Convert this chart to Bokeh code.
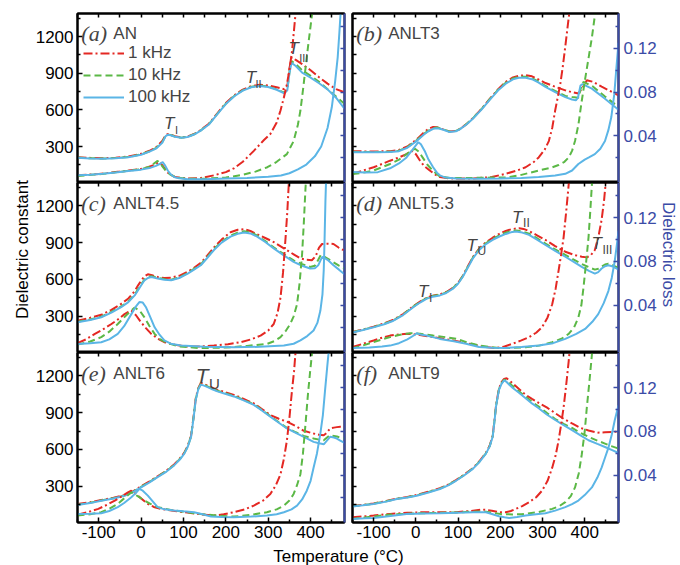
from math import pi
from bokeh.plotting import figure
from bokeh.models import Range1d, LinearAxis, FixedTicker, Legend, LegendItem, Label
from bokeh.layouts import row, column
from bokeh.embed import file_html
from bokeh.resources import INLINE
from bokeh.core.properties import value

# ---------------- data (temperature in degC, dielectric constant, dielectric loss) ----------------
# (a) AN
A_T_E = [-150, -120, -90, -60, -30, 0, 20, 35, 50, 58, 63, 70, 80, 95, 110, 125, 140, 160, 180, 200, 220, 240, 260, 280, 300, 320, 338, 345, 350, 355, 365, 380, 400, 420, 440, 460, 480]
A_E_100K = [207, 202, 199, 203, 212, 232, 258, 282, 330, 385, 396, 392, 380, 371, 378, 398, 428, 480, 565, 648, 712, 758, 786, 796, 788, 765, 735, 760, 900, 985, 960, 905, 865, 818, 768, 700, 610]
A_E_1K = [212, 207, 204, 208, 218, 240, 265, 292, 345, 392, 402, 396, 384, 374, 382, 402, 433, 487, 572, 656, 720, 766, 795, 806, 800, 785, 770, 790, 940, 1030, 1010, 975, 925, 868, 815, 770, 745]
A_E_10K = [209, 204, 201, 205, 214, 235, 261, 286, 336, 388, 398, 394, 382, 372, 380, 400, 430, 483, 568, 651, 715, 761, 789, 799, 791, 768, 742, 765, 905, 1000, 975, 925, 880, 830, 770, 710, 650]
A_T_L100K = [-150, -120, -90, -60, -30, 0, 20, 35, 45, 51, 56, 63, 70, 78, 90, 110, 150, 200, 250, 300, 330, 350, 370, 390, 410, 425, 440, 450, 458, 464, 468, 472]
A_L_100K = [0.0036, 0.0042, 0.005, 0.0062, 0.0076, 0.0088, 0.0102, 0.0122, 0.0142, 0.0158, 0.013, 0.008, 0.0045, 0.002, 0.0008, 0.0, 0.0, 0.0006, 0.0012, 0.0022, 0.0035, 0.0055, 0.009, 0.0135, 0.021, 0.03, 0.047, 0.066, 0.09, 0.112, 0.135, 0.16]
A_T_L1K = [-150, -100, -50, 0, 16, 30, 43, 50, 63, 80, 110, 140, 172, 200, 219, 240, 266, 290, 305, 320, 329, 337, 344, 350, 356, 360, 364, 367]
A_L_1K = [0.0036, 0.0048, 0.007, 0.0095, 0.011, 0.013, 0.016, 0.013, 0.006, 0.002, 0.0006, 0.001, 0.0036, 0.0065, 0.01, 0.016, 0.026, 0.036, 0.0415, 0.052, 0.063, 0.075, 0.087, 0.1, 0.117, 0.133, 0.15, 0.16]
A_T_L10K = [-150, -100, -50, 0, 20, 39, 48, 60, 70, 85, 110, 150, 200, 240, 270, 298, 320, 344, 360, 370, 376, 383, 388, 395, 403, 406]
A_L_10K = [0.003, 0.0045, 0.0068, 0.0092, 0.0115, 0.0168, 0.013, 0.007, 0.004, 0.0015, 0.0005, 0.0005, 0.0015, 0.004, 0.007, 0.011, 0.016, 0.023, 0.035, 0.05, 0.063, 0.085, 0.102, 0.125, 0.15, 0.16]

# (b) ANLT3
B_T_E100K = [-150, -120, -90, -60, -40, -20, 0, 10, 20, 30, 41, 50, 57, 65, 80, 95, 104, 120, 135, 155, 174, 195, 213, 230, 244, 260, 275, 290, 307, 330, 354, 370, 379, 384, 390, 395, 417, 448, 480]
B_E_100K = [253, 252, 252, 254, 262, 290, 340, 370, 400, 425, 445, 450, 446, 437, 418, 425, 440, 480, 527, 600, 678, 760, 815, 850, 864, 863, 852, 825, 788, 745, 705, 685, 678, 700, 800, 812, 774, 692, 601]
B_T_E1K = [-150, -120, -90, -60, -40, -20, 0, 10, 20, 30, 41, 50, 57, 65, 80, 95, 104, 120, 135, 155, 174, 195, 213, 230, 244, 260, 275, 290, 307, 330, 354, 370, 385, 395, 405, 420, 440, 460, 480]
B_E_1K = [262, 260, 260, 262, 272, 300, 352, 385, 418, 445, 460, 458, 450, 440, 422, 428, 443, 483, 532, 606, 686, 770, 830, 866, 880, 884, 875, 850, 820, 790, 760, 745, 735, 780, 843, 830, 790, 755, 719]
B_T_E10K = [-150, -120, -90, -60, -40, -20, 0, 10, 20, 30, 41, 50, 57, 65, 80, 95, 104, 120, 135, 155, 174, 195, 213, 230, 244, 260, 275, 290, 307, 330, 354, 370, 385, 391, 397, 420, 448, 480]
B_E_10K = [256, 255, 255, 257, 266, 295, 345, 376, 406, 430, 450, 455, 450, 441, 422, 428, 443, 484, 531, 605, 683, 766, 822, 858, 872, 871, 860, 833, 796, 755, 715, 705, 700, 780, 829, 790, 710, 625]
B_T_L100K = [-150, -120, -90, -61, -40, -22, -10, 0, 6, 12, 21, 30, 41, 50, 57, 70, 96, 150, 200, 250, 291, 330, 354, 370, 385, 400, 410, 424, 437, 448, 456, 463, 470, 475, 480]
B_L_100K = [0.0067, 0.0062, 0.0065, 0.01, 0.0145, 0.02, 0.026, 0.031, 0.034, 0.032, 0.026, 0.018, 0.011, 0.006, 0.0036, 0.0015, 0.0006, 0.0005, 0.0006, 0.0012, 0.002, 0.0035, 0.005, 0.008, 0.014, 0.018, 0.02, 0.023, 0.028, 0.035, 0.045, 0.057, 0.078, 0.102, 0.125]
B_T_L1K = [-150, -125, -100, -80, -61, -40, -22, -10, 0, 10, 20, 33, 45, 57, 80, 130, 180, 213, 240, 260, 280, 291, 305, 315, 323, 330, 336, 342, 348, 355, 362, 366]
B_L_1K = [0.005, 0.008, 0.011, 0.014, 0.017, 0.02, 0.023, 0.026, 0.023, 0.017, 0.012, 0.008, 0.0045, 0.002, 0.0008, 0.0006, 0.002, 0.005, 0.008, 0.011, 0.016, 0.02, 0.027, 0.035, 0.047, 0.063, 0.075, 0.087, 0.103, 0.125, 0.148, 0.16]
B_T_L10K = [-150, -125, -100, -80, -61, -40, -22, -10, -2, 8, 16, 28, 40, 57, 80, 130, 180, 213, 250, 291, 320, 338, 352, 362, 370, 377, 385, 393, 401, 409, 417, 424, 427]
B_L_10K = [0.0048, 0.006, 0.008, 0.011, 0.014, 0.018, 0.023, 0.026, 0.028, 0.025, 0.02, 0.013, 0.008, 0.0025, 0.0012, 0.0012, 0.0015, 0.0015, 0.004, 0.008, 0.0105, 0.013, 0.016, 0.02, 0.026, 0.035, 0.05, 0.072, 0.092, 0.111, 0.13, 0.15, 0.16]

# (c) ANLT4.5
C_T_E = [-150, -120, -94, -70, -47, -30, -15, -3, 8, 16, 24, 32, 39, 55, 71, 90, 110, 125, 141, 156, 172, 190, 211, 228, 243, 258, 274, 293, 313, 336, 360, 380, 399, 410, 418, 424, 428, 440, 454, 467, 480]
C_E_100K = [251, 270, 292, 330, 374, 415, 470, 535, 593, 612, 620, 614, 607, 597, 593, 612, 648, 680, 716, 775, 840, 900, 949, 972, 982, 975, 949, 905, 853, 798, 744, 712, 689, 692, 715, 760, 785, 760, 716, 680, 642]
C_E_10K = [255, 274, 297, 336, 380, 422, 478, 543, 600, 620, 627, 621, 613, 603, 598, 617, 653, 686, 722, 782, 848, 908, 958, 982, 992, 985, 958, 913, 862, 808, 755, 725, 702, 712, 760, 799, 795, 770, 740, 712, 690]
C_T_E1K = [-150, -120, -94, -70, -47, -30, -15, -7, 0, 8, 16, 26, 39, 55, 71, 90, 110, 125, 141, 156, 172, 190, 211, 228, 243, 258, 274, 293, 313, 337, 360, 376, 390, 403, 412, 420, 427, 440, 454, 466, 480]
C_E_1K = [264, 288, 312, 352, 401, 445, 505, 552, 590, 625, 642, 635, 620, 612, 615, 630, 662, 695, 735, 795, 860, 925, 985, 1005, 1010, 995, 968, 938, 905, 853, 805, 771, 760, 757, 790, 860, 889, 892, 889, 860, 835]
C_T_L100K = [-150, -120, -94, -75, -55, -40, -23, -12, -4, 4, 12, 22, 32, 44, 55, 70, 94, 150, 219, 280, 337, 360, 376, 392, 407, 416, 423, 428, 431, 433, 435, 437]
C_L_100K = [0.0048, 0.0055, 0.0064, 0.009, 0.014, 0.021, 0.032, 0.039, 0.043, 0.0425, 0.038, 0.029, 0.02, 0.013, 0.008, 0.005, 0.0033, 0.0022, 0.0018, 0.0022, 0.0033, 0.005, 0.008, 0.012, 0.017, 0.024, 0.035, 0.05, 0.072, 0.1, 0.135, 0.16]
C_T_L1K = [-150, -130, -109, -90, -70, -55, -39, -30, -23, -12, 0, 12, 24, 40, 55, 80, 110, 140, 172, 205, 235, 260, 282, 300, 313, 322, 329, 335, 341, 345, 348, 350]
C_L_1K = [0.0055, 0.009, 0.014, 0.018, 0.023, 0.027, 0.032, 0.034, 0.035, 0.031, 0.0245, 0.019, 0.014, 0.0095, 0.0064, 0.004, 0.0024, 0.0025, 0.0033, 0.0045, 0.0064, 0.009, 0.0124, 0.017, 0.023, 0.033, 0.047, 0.07, 0.102, 0.125, 0.147, 0.16]
C_T_L10K = [-150, -120, -94, -75, -55, -35, -15, -3, 8, 20, 32, 45, 63, 90, 140, 200, 250, 297, 315, 329, 342, 352, 360, 368, 374, 380, 384, 388, 390]
C_L_10K = [0.0042, 0.007, 0.011, 0.016, 0.023, 0.031, 0.038, 0.035, 0.029, 0.021, 0.014, 0.009, 0.0055, 0.0025, 0.001, 0.0015, 0.003, 0.0048, 0.0075, 0.011, 0.017, 0.023, 0.03, 0.041, 0.06, 0.087, 0.115, 0.147, 0.16]

# (d) ANLT5.3
D_T_E = [-150, -125, -100, -75, -53, -30, -6, 10, 25, 40, 57, 72, 88, 100, 111, 123, 135, 150, 165, 182, 198, 213, 225, 237, 252, 268, 287, 307, 330, 354, 375, 393, 410, 424, 432, 440, 448, 456, 467, 480]
D_E_100K = [168, 188, 210, 235, 264, 310, 374, 412, 442, 460, 470, 490, 525, 565, 620, 695, 771, 840, 885, 922, 950, 971, 984, 990, 982, 963, 925, 881, 833, 785, 742, 703, 670, 648, 660, 689, 708, 716, 705, 681]
D_E_10K = [170, 191, 213, 239, 268, 315, 379, 417, 447, 465, 475, 495, 530, 570, 625, 702, 778, 848, 893, 931, 960, 982, 995, 1000, 992, 973, 936, 893, 845, 800, 760, 725, 700, 680, 688, 705, 722, 728, 715, 695]
D_T_E1K = [-150, -125, -100, -75, -53, -30, -6, 10, 25, 40, 57, 72, 88, 100, 111, 123, 135, 150, 165, 182, 198, 213, 225, 237, 245, 255, 268, 287, 307, 330, 354, 375, 393, 405, 415, 424, 432, 440, 446, 450]
D_E_1K = [172, 192, 215, 242, 272, 318, 382, 420, 450, 468, 478, 498, 532, 572, 628, 705, 782, 852, 900, 940, 972, 995, 1008, 1015, 1018, 1012, 995, 960, 922, 872, 826, 800, 785, 780, 800, 840, 940, 1086, 1250, 1400]
D_T_L100K = [-150, -110, -80, -61, -40, -20, -5, 2, 10, 25, 40, 57, 90, 119, 150, 180, 213, 250, 291, 325, 354, 380, 401, 418, 432, 445, 456, 464, 471, 476, 480]
D_L_100K = [0.001, 0.0015, 0.0025, 0.0033, 0.0055, 0.009, 0.0125, 0.0146, 0.0135, 0.0125, 0.011, 0.0094, 0.0072, 0.005, 0.002, 0.0013, 0.0012, 0.002, 0.0033, 0.0055, 0.0094, 0.014, 0.0185, 0.025, 0.032, 0.042, 0.053, 0.065, 0.08, 0.095, 0.108]
D_T_L1K = [-150, -125, -100, -80, -61, -40, -22, 0, 20, 41, 65, 88, 120, 158, 190, 210, 229, 250, 268, 285, 299, 312, 323, 331, 338, 344, 350, 356, 362, 365]
D_L_1K = [0.002, 0.005, 0.008, 0.0105, 0.0124, 0.0135, 0.014, 0.0135, 0.0122, 0.011, 0.0095, 0.008, 0.0055, 0.0024, 0.001, 0.0025, 0.005, 0.008, 0.011, 0.015, 0.02, 0.029, 0.041, 0.055, 0.0715, 0.086, 0.102, 0.125, 0.15, 0.16]
D_T_L10K = [-150, -125, -100, -80, -61, -40, -14, 10, 41, 70, 96, 120, 150, 197, 230, 260, 295, 323, 345, 362, 375, 385, 392, 397, 403, 409, 413, 417, 419]
D_L_10K = [0.001, 0.0035, 0.0064, 0.009, 0.011, 0.013, 0.0146, 0.0142, 0.0125, 0.011, 0.0094, 0.0065, 0.0033, 0.001, 0.0012, 0.0018, 0.0035, 0.0064, 0.0095, 0.014, 0.02, 0.029, 0.04, 0.056, 0.078, 0.102, 0.125, 0.15, 0.16]

# (e) ANLT6
E_T_E = [-150, -120, -94, -65, -39, -20, 0, 20, 39, 60, 78, 92, 102, 110, 118, 124, 129, 135, 141, 147, 153, 165, 180, 200, 219, 242, 266, 285, 305, 325, 344, 365, 384, 407, 420, 431, 438, 446, 455, 462, 470, 480]
E_E_100K = [147, 163, 182, 200, 223, 250, 292, 332, 374, 420, 470, 520, 566, 620, 703, 860, 1004, 1090, 1127, 1122, 1114, 1095, 1073, 1052, 1032, 1000, 963, 918, 867, 818, 771, 735, 703, 662, 650, 642, 670, 703, 697, 689, 672, 653]
E_E_1K = [155, 170, 188, 206, 228, 256, 300, 340, 382, 428, 478, 528, 574, 628, 712, 870, 1015, 1100, 1141, 1136, 1126, 1108, 1085, 1065, 1045, 1012, 975, 930, 881, 850, 826, 790, 752, 730, 720, 716, 735, 771, 778, 782, 785, 785]
E_E_10K = [150, 166, 185, 203, 226, 253, 296, 336, 378, 424, 474, 524, 570, 624, 707, 865, 1010, 1095, 1134, 1129, 1120, 1100, 1078, 1057, 1037, 1004, 968, 922, 872, 822, 776, 740, 710, 690, 680, 675, 695, 716, 710, 705, 698, 690]
E_T_L100K = [-150, -120, -94, -75, -55, -40, -23, -12, -4, 4, 16, 28, 39, 55, 78, 100, 125, 145, 165, 190, 219, 260, 297, 320, 337, 355, 368, 380, 391, 400, 407, 415, 423, 429, 434, 439, 442, 444]
E_L_100K = [0.0048, 0.005, 0.0055, 0.0075, 0.011, 0.0148, 0.02, 0.024, 0.0276, 0.026, 0.0215, 0.016, 0.011, 0.009, 0.008, 0.0072, 0.0064, 0.0045, 0.0024, 0.002, 0.0018, 0.0024, 0.0033, 0.0045, 0.0064, 0.009, 0.0124, 0.018, 0.026, 0.035, 0.047, 0.06, 0.078, 0.095, 0.117, 0.138, 0.15, 0.16]
E_T_L1K = [-150, -125, -101, -80, -62, -45, -31, -23, -12, 0, 16, 30, 47, 80, 110, 140, 172, 195, 219, 245, 266, 288, 305, 318, 329, 337, 344, 350, 356, 361, 364, 367]
E_L_1K = [0.0042, 0.0065, 0.0094, 0.0132, 0.017, 0.021, 0.0245, 0.026, 0.023, 0.019, 0.014, 0.0112, 0.0094, 0.0075, 0.006, 0.0045, 0.0033, 0.0045, 0.0064, 0.009, 0.0124, 0.017, 0.023, 0.031, 0.041, 0.055, 0.0715, 0.092, 0.117, 0.135, 0.15, 0.16]
E_T_L10K = [-150, -120, -94, -75, -55, -40, -23, -8, 8, 22, 39, 70, 100, 140, 180, 219, 260, 297, 320, 337, 350, 360, 368, 376, 382, 388, 394, 399, 403, 406]
E_L_10K = [0.0033, 0.0045, 0.0064, 0.0095, 0.014, 0.019, 0.0245, 0.021, 0.017, 0.014, 0.011, 0.0085, 0.0068, 0.0048, 0.0033, 0.0024, 0.004, 0.0064, 0.009, 0.0124, 0.017, 0.023, 0.031, 0.041, 0.06, 0.087, 0.115, 0.135, 0.15, 0.16]

# (f) ANLT9
F_T_E = [-150, -125, -100, -70, -45, -20, 2, 30, 57, 78, 96, 115, 135, 150, 166, 175, 182, 186, 190, 194, 197, 203, 209, 215, 222, 229, 245, 260, 275, 291, 310, 330, 350, 370, 390, 409, 430, 448, 465, 480]
F_E_100K = [136, 145, 155, 175, 196, 208, 223, 250, 278, 310, 347, 390, 442, 495, 566, 625, 703, 820, 952, 1030, 1086, 1135, 1163, 1150, 1125, 1103, 1060, 1018, 975, 936, 885, 840, 798, 758, 715, 675, 645, 620, 594, 571]
F_E_1K = [140, 149, 160, 180, 200, 213, 230, 256, 284, 316, 352, 396, 448, 502, 572, 632, 712, 830, 960, 1040, 1098, 1148, 1175, 1180, 1160, 1140, 1090, 1045, 1012, 980, 943, 896, 850, 812, 776, 755, 737, 740, 743, 744]
F_E_10K = [138, 147, 158, 178, 198, 210, 226, 253, 281, 313, 350, 393, 445, 498, 569, 628, 707, 825, 956, 1035, 1092, 1141, 1168, 1163, 1140, 1118, 1072, 1030, 988, 950, 898, 848, 808, 775, 735, 703, 672, 648, 625, 607]
F_T_L100K = [-150, -120, -100, -60, -22, 20, 57, 100, 135, 166, 180, 197, 210, 221, 240, 260, 285, 307, 330, 354, 370, 385, 400, 417, 430, 440, 448, 456, 464, 471, 480]
F_L_100K = [0.0003, 0.0008, 0.0012, 0.003, 0.0048, 0.0052, 0.0055, 0.006, 0.0064, 0.0064, 0.0048, 0.0027, 0.0018, 0.0012, 0.002, 0.0033, 0.0045, 0.0055, 0.0078, 0.011, 0.0138, 0.017, 0.022, 0.029, 0.038, 0.047, 0.056, 0.065, 0.077, 0.09, 0.104]
F_T_L1K = [-150, -100, -61, -20, 17, 60, 96, 130, 158, 180, 197, 213, 225, 237, 252, 268, 285, 299, 312, 323, 331, 338, 344, 350, 356, 362, 366]
F_L_1K = [0.0018, 0.0033, 0.0048, 0.0058, 0.0064, 0.0064, 0.0064, 0.0075, 0.0088, 0.0078, 0.0064, 0.0064, 0.0075, 0.0094, 0.012, 0.0155, 0.02, 0.026, 0.035, 0.047, 0.058, 0.0715, 0.086, 0.102, 0.122, 0.144, 0.16]
F_T_L10K = [-150, -100, -61, -20, 17, 60, 96, 130, 158, 180, 205, 230, 250, 290, 323, 340, 354, 367, 377, 386, 393, 400, 405, 411, 417, 419]
F_L_10K = [0.0003, 0.0025, 0.0042, 0.005, 0.0055, 0.0058, 0.0062, 0.0068, 0.0072, 0.006, 0.0045, 0.0044, 0.0045, 0.0065, 0.0094, 0.012, 0.0155, 0.021, 0.029, 0.042, 0.059, 0.08, 0.102, 0.125, 0.15, 0.16]

FREQ_LABELS = ["1 kHz", "10 kHz", "100 kHz"]
X_TICKS = [-100, 0, 100, 200, 300, 400]
X_TICK_LABELS = ["-100", "0", "100", "200", "300", "400"]
X_MINOR = [-150, -50, 50, 150, 250, 350, 450]
E_TICKS = [300, 600, 900, 1200]
E_MINOR = [150, 450, 750, 1050, 1350]
L_TICKS = [0.04, 0.08, 0.12]
L_MINOR = [0.02, 0.06, 0.10, 0.14]

# ---------------- style ----------------
RED = "#E42823"
GREEN = "#5BB846"
BLUE = "#5BB5E6"
AXBLUE = "#3B4BA6"
SANS = "Liberation Sans"
X_RANGE = (-150, 480)
E_RANGE = (5, 1390)
L_RANGE = (-0.003, 0.152)
DASH_1K = "9 3 2 3"
DASH_10K = "7 4"


def make_axis(color, ticks, minor, show_labels, standoff=4, range_name=None, overrides=None):
    kw = {} if range_name is None else {"y_range_name": range_name}
    if show_labels:
        ax = LinearAxis(ticker=FixedTicker(ticks=ticks, minor_ticks=minor), **kw)
        ax.major_label_text_font = SANS
        ax.major_label_text_color = color
        ax.major_label_text_font_size = "17px"
        ax.major_label_standoff = standoff
        if overrides:
            ax.major_label_overrides = overrides
    else:
        # ticks only, no labels: all tick marks drawn as minor ticks
        ax = LinearAxis(ticker=FixedTicker(ticks=[], minor_ticks=sorted(ticks + minor)), **kw)
        ax.major_label_standoff = 0
    ax.axis_line_color = color
    ax.axis_line_width = 2
    ax.major_tick_line_color = color
    ax.minor_tick_line_color = color
    ax.major_tick_line_width = 1.5
    ax.minor_tick_line_width = 1.5
    ax.major_tick_in = 5
    ax.major_tick_out = 0
    ax.minor_tick_in = 3 if show_labels else 4
    ax.minor_tick_out = 0
    return ax


def panel(col, rw, letter, name, e_series, l_series, notes, legend=False):
    width = 316 if col == 0 else 311
    height = [182, 170, 194][rw]
    p = figure(width=width, height=height,
               x_range=Range1d(*X_RANGE), y_range=Range1d(*E_RANGE),
               x_axis_location=None, y_axis_location=None,
               toolbar_location=None, tools="", output_backend="svg",
               min_border_left=44 if col == 0 else 4,
               min_border_right=4 if col == 0 else 39,
               min_border_top=13 if rw == 0 else 0,
               min_border_bottom=24 if rw == 2 else 0)
    p.extra_y_ranges = {"loss": Range1d(*L_RANGE)}
    p.grid.visible = False
    p.outline_line_color = "black"
    p.outline_line_width = 2
    p.background_fill_color = "white"
    p.border_fill_color = "white"

    p.add_layout(make_axis("black", E_TICKS, E_MINOR, col == 0, 4), "left")
    p.add_layout(make_axis(AXBLUE, L_TICKS, L_MINOR, col == 1, 5, "loss"), "right")
    p.add_layout(make_axis("black", X_TICKS, X_MINOR, False), "above")
    if rw == 2:
        p.add_layout(make_axis("black", X_TICKS, X_MINOR, True, 3,
                               overrides=dict(zip(X_TICKS, X_TICK_LABELS))), "below")

    styles = [(RED, DASH_1K), (GREEN, DASH_10K), (BLUE, "solid")]
    e_renderers = []
    for (t, v), (c, d) in zip(e_series, styles):
        assert len(t) == len(v), (name, len(t), len(v))
        e_renderers.append(p.line(t, v, line_color=c, line_width=2, line_dash=d))
    for (t, v), (c, d) in zip(l_series, styles):
        assert len(t) == len(v), (name, len(t), len(v))
        p.line(t, v, line_color=c, line_width=2, line_dash=d, y_range_name="loss")

    ylab = 1226 if rw == 0 else 1222
    p.add_layout(Label(x=-141, y=ylab, text="(" + letter + ")", text_font="Liberation Serif",
                       text_font_style="italic", text_font_size="22px", text_baseline="middle"))
    p.add_layout(Label(x=-65.5, y=ylab, text=name, text_font=SANS,
                       text_font_size="17px", text_baseline="middle"))
    for (tx, ty, sx, sy, sub, big, small) in notes:
        p.add_layout(Label(x=tx, y=ty, text="T", text_font=SANS, text_font_style="italic",
                           text_font_size=big, text_baseline="middle"))
        p.add_layout(Label(x=sx, y=sy, text=sub, text_font=SANS,
                           text_font_size=small, text_baseline="middle"))

    if legend:
        items = [LegendItem(label=lab, renderers=[r]) for lab, r in zip(FREQ_LABELS, e_renderers)]
        lg = Legend(items=items, location=(6, 75), glyph_width=41, glyph_height=20,
                    label_height=20, label_standoff=4, spacing=2, padding=0, margin=0,
                    label_text_font=SANS, label_text_font_size="17px",
                    background_fill_alpha=0, border_line_alpha=0)
        p.add_layout(lg)
    return p


pa = panel(0, 0, "a", "AN",
           [(A_T_E, A_E_1K), (A_T_E, A_E_10K), (A_T_E, A_E_100K)],
           [(A_T_L1K, A_L_1K), (A_T_L10K, A_L_10K), (A_T_L100K, A_L_100K)],
           [(54, 488, 80, 439, "I", "17px", "11px"),
            (247, 865, 270, 816, "II", "17px", "11px"),
            (348, 1103, 373, 1029, "III", "17px", "11px")], legend=True)
pb = panel(1, 0, "b", "ANLT3",
           [(B_T_E1K, B_E_1K), (B_T_E10K, B_E_10K), (B_T_E100K, B_E_100K)],
           [(B_T_L1K, B_L_1K), (B_T_L10K, B_L_10K), (B_T_L100K, B_L_100K)], [])
pc = panel(0, 1, "c", "ANLT4.5",
           [(C_T_E1K, C_E_1K), (C_T_E, C_E_10K), (C_T_E, C_E_100K)],
           [(C_T_L1K, C_L_1K), (C_T_L10K, C_L_10K), (C_T_L100K, C_L_100K)], [])
pd_ = panel(1, 1, "d", "ANLT5.3",
            [(D_T_E1K, D_E_1K), (D_T_E, D_E_10K), (D_T_E, D_E_100K)],
            [(D_T_L1K, D_L_1K), (D_T_L10K, D_L_10K), (D_T_L100K, D_L_100K)],
            [(228, 1105, 254, 1056, "II", "17px", "12px"),
             (120, 877, 146, 828, "U", "17px", "12px"),
             (5, 502, 31, 445, "I", "17px", "12px"),
             (416, 893, 442, 844, "III", "17px", "12px")])
pe = panel(0, 2, "e", "ANLT6",
           [(E_T_E, E_E_1K), (E_T_E, E_E_10K), (E_T_E, E_E_100K)],
           [(E_T_L1K, E_L_1K), (E_T_L10K, E_L_10K), (E_T_L100K, E_L_100K)],
           [(129, 1203, 160, 1138, "U", "21px", "15px")])
pf = panel(1, 2, "f", "ANLT9",
           [(F_T_E, F_E_1K), (F_T_E, F_E_10K), (F_T_E, F_E_100K)],
           [(F_T_L1K, F_L_1K), (F_T_L10K, F_L_10K), (F_T_L100K, F_L_100K)], [])


def strip(w, h):
    s = figure(width=w, height=h, x_range=Range1d(0, w), y_range=Range1d(0, h),
               x_axis_location=None, y_axis_location=None, toolbar_location=None,
               tools="", output_backend="svg", min_border=0)
    s.grid.visible = False
    s.outline_line_color = None
    return s


left_strip = strip(32, 565)
left_strip.text(x=[22], y=[316], text=["Dielectric constant"], angle=pi / 2,
                text_font=value(SANS), text_font_size="17px", text_align="center",
                text_baseline="middle", text_color="black")
right_strip = strip(21, 565)
right_strip.text(x=[9], y=[311], text=["Dielectric loss"], angle=-pi / 2,
                 text_font=value(SANS), text_font_size="17px", text_align="center",
                 text_baseline="middle", text_color=AXBLUE)
xlab = strip(627, 19)
xlab.text(x=[306], y=[9], text=["Temperature (\u00b0C)"],
          text_font=value(SANS), text_font_size="17px", text_align="center",
          text_baseline="middle", text_color="black")

middle = column(row(pa, pb), row(pc, pd_), row(pe, pf), xlab)
layout = row(left_strip, middle, right_strip)

open("out.html", "w").write(file_html(layout, INLINE))
